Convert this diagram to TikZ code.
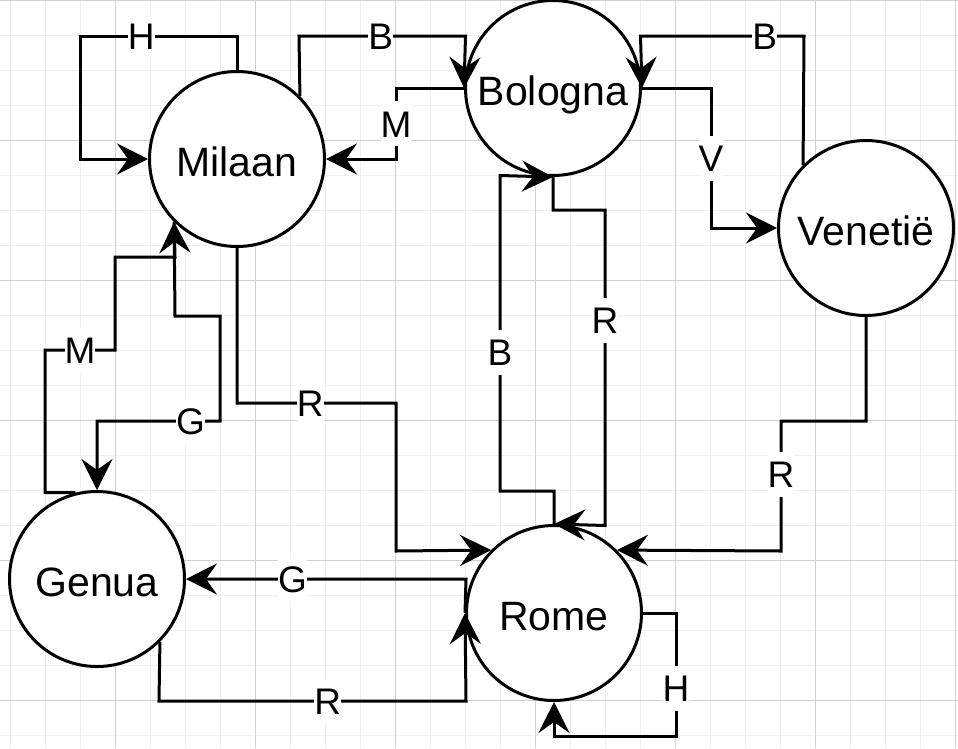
\documentclass[tikz,border=0pt]{standalone}
\usepackage{fontspec}
\setmainfont{Liberation Sans}
\usetikzlibrary{arrows.meta, math}

\tikzset{
  city/.style={draw, circle, line width=3pt, fill=white, minimum size=175pt, inner sep=0pt,
    text height=35pt, text depth=0pt, font=\fontsize{41}{49}\selectfont},
  link/.style={line width=3pt, -{Stealth[length=31pt, width=31pt, inset=11pt]}},
  lbl/.style={fill=white, inner xsep=0pt, inner ysep=9pt, text height=27pt, text depth=0pt,
    font=\fontsize{37}{44}\selectfont},
  gridminor/.style={black!6, line width=1pt},
  gridmajor/.style={black!18, line width=1pt}
}

\begin{document}
\begin{tikzpicture}[x=1pt, y=-1pt]
      \tikzmath{\w = 958; \h = 748;}
      \useasboundingbox (0,0) rectangle (\w,\h);
      \fill[white] (0,0) rectangle (\w,\h);
      \foreach \x in {10,45,...,955} \draw[gridminor] (\x,0) -- (\x,\h);
      \foreach \y in {0,35,...,735} \draw[gridminor] (0,\y) -- (\w,\y);
      \foreach \x in {115,255,...,955} \draw[gridmajor] (\x,0) -- (\x,\h);
      \foreach \y in {0,140,...,700} \draw[gridmajor] (0,\y) -- (\w,\y);

      \node[city] (milaan) at (237,159) {Milaan};
      \node[city] (bologna) at (553,88) {Bologna};
      \node[city] (venetie) at (866,228) {Venetië};
      \node[city] (genua) at (97,579) {Genua};
      \node[city] (rome) at (554,613) {Rome};

      \draw[link] (milaan.north) -- (237,36) -- node[lbl, pos=0.61] (h1) {H} (80,36) |- (milaan.west);
      \draw[link] (milaan.north east) -- (299,36) -- node[lbl, pos=0.49] (b1) {B} (465.5,36) -- (bologna.west);
      \draw[link] (bologna.west) -- (396,88) -- node[lbl] (m1) {M} (396,159) -- (milaan.east);
      \draw[link] (venetie.north west) -- (804,36) -- node[lbl, pos=0.24] (b2) {B} (640.5,36) -- (bologna.east);
      \draw[link] (bologna.east) -- (711,88) -- node[lbl] (v1) {V} (711,228) -- (venetie.west);
      \draw[link] (bologna.south) -- (553,210) -- (605,210) -- node[lbl, pos=0.35] (r1) {R} (605,525.5) -- (rome.north);
      \draw[link] (rome.north) -- (554,491) -- (500,491) -- node[lbl, pos=0.44] (b3) {B} (500,175.5) -- (bologna.south);
      \draw[link] (venetie.south) -- (866,421) -- (781,421) -- node[lbl, pos=0.41] (r2) {R} (781,551) -- (rome.north east);
      \draw[link] (milaan.south) -- (237,403) -- node[lbl, pos=0.46] (r3) {R} (396,403) -- (396,551) -- (rome.north west);
      \draw[link] (milaan.south west) -- (175,316) -- (220,316) -- (220,421) -- node[lbl, pos=0.24] (g1) {G} (97,421) -- (genua.north);
      \draw[link] (genua.104) -| (45,350) -- node[lbl] (m2) {M} (115,350) -- (115,257) -- (175,257) -- (milaan.south west);
      \draw[link] (rome.west) -- (466,579) -- node[lbl, pos=0.62] (g2) {G} (genua.east);
      \draw[link] (genua.south east) -- (159,701) -- node[lbl, pos=0.55] (r4) {R} (466,701) -- (rome.west);
      \draw[link] (rome.east) -- (676,613) -- node[lbl, pos=0.61] (h2) {H} (676,736) -- (554,736) -- (rome.south);
    \end{tikzpicture}
\end{document}
